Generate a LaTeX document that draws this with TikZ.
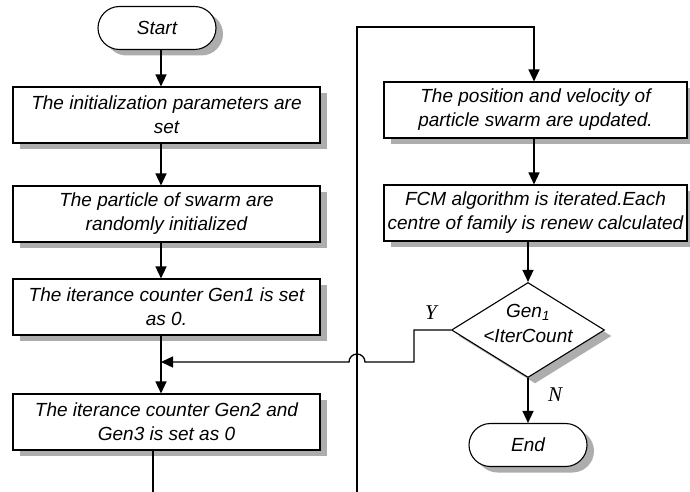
\documentclass[tikz,border=0pt]{standalone}
\usepackage{fontspec}
\setmainfont{Liberation Sans}
\newfontfamily\tnr{Liberation Serif}
\usetikzlibrary{shapes.geometric,shapes.misc,arrows.meta,shadows}
\tikzset{
  base/.style={draw=black, line width=1.1pt, fill=white,
    font=\fontsize{19}{24}\selectfont\itshape, align=center,
    drop shadow={shadow xshift=7pt, shadow yshift=-6pt, fill=black!32, opacity=1}},
  procbox/.style={base, rectangle, inner xsep=0pt, inner ysep=0pt, minimum height=56pt},
  leftbox/.style={procbox, minimum width=307pt},
  rightbox/.style={procbox, minimum width=303pt},
  termbox/.style={base, rounded rectangle, minimum width=118pt, minimum height=43pt, inner sep=0pt},
  decbox/.style={base, diamond, minimum width=153pt, minimum height=95pt, inner sep=0pt},
  flow/.style={line width=1.3pt, -{Triangle[length=12pt,width=11pt]}},
  plainline/.style={line width=1.3pt},
  yn/.style={font=\fontsize{21}{24}\selectfont\tnr\itshape}
}
\begin{document}
\begin{tikzpicture}[x=1pt,y=-1pt]
\useasboundingbox (0,0) rectangle (690,492);
\clip (0,0) rectangle (690,492);

% fragment of a caption cut by the top edge
\node[font=\fontsize{20}{24}\selectfont\tnr, anchor=base, inner sep=0pt] (gfrag) at (524,-4.5) {g};

% helper coordinates for connector columns
\coordinate (colL) at (161,0);
\coordinate (colLb) at (153,0);
\coordinate (colR) at (534,0);
\coordinate (colRb) at (528,0);

% left column
\node[termbox] (start) at (157,28) {Start};
\node[leftbox] (b1) at (166.5,115) {The initialization parameters are\\set};
\node[leftbox] (b2) at (166.5,214) {The particle of swarm are\\randomly initialized};
\node[leftbox] (b3) at (166.5,307) {The iterance counter Gen1 is set\\as 0.};
\node[leftbox] (b4) at (166.5,422) {The iterance counter Gen2 and\\Gen3 is set as 0};

% right column
\node[rightbox] (b5) at (535.5,110) {The position and velocity of\\particle swarm are updated.};
\node[rightbox] (b6) at (535.5,213) {FCM algorithm is iterated.Each\\centre of family is renew calculated};
\node[decbox, label={[name=dectext, align=center, yshift=7pt, font=\fontsize{19}{25}\selectfont\itshape]center:Gen\textsubscript{1}\\<IterCount}] (dec) at (528,330) {};
\node[termbox] (end) at (528,445) {End};

% free ends
\coordinate (bottomL) at (153,492);
\coordinate (loopB) at (357,492);
\coordinate (loopT) at (357,27);
\coordinate (yk) at (414,362);
\coordinate (jmpR) at (365,362);

% left connectors
\draw[flow] (start.south -| colL) -- (b1.north -| colL);
\draw[flow] (b1.south -| colL) -- (b2.north -| colL);
\draw[flow] (b2.south -| colL) -- (b3.north -| colL);
\draw[flow] (b3.south -| colL) -- (b4.north -| colL);
\draw[plainline] (b4.south -| colLb) -- (bottomL);

% right connectors
\draw[flow] (loopB) -- (loopT) -| (b5.north -| colR);
\draw[flow] (b5.south -| colR) -- (b6.north -| colR);
\draw[flow] (b6.south -| colRb) -- (dec.north);
\draw[flow] (dec.south) -- (end.north);

% Y branch with jump over the loop line
\draw[flow] (dec.west) -| (yk) -- (jmpR) arc[start angle=0, end angle=180, radius=8pt] -- (colL |- yk);

% labels
\node[yn] (ylab) at (431,313) {Y};
\node[yn] (nlab) at (555,395) {N};
\end{tikzpicture}
\end{document}
